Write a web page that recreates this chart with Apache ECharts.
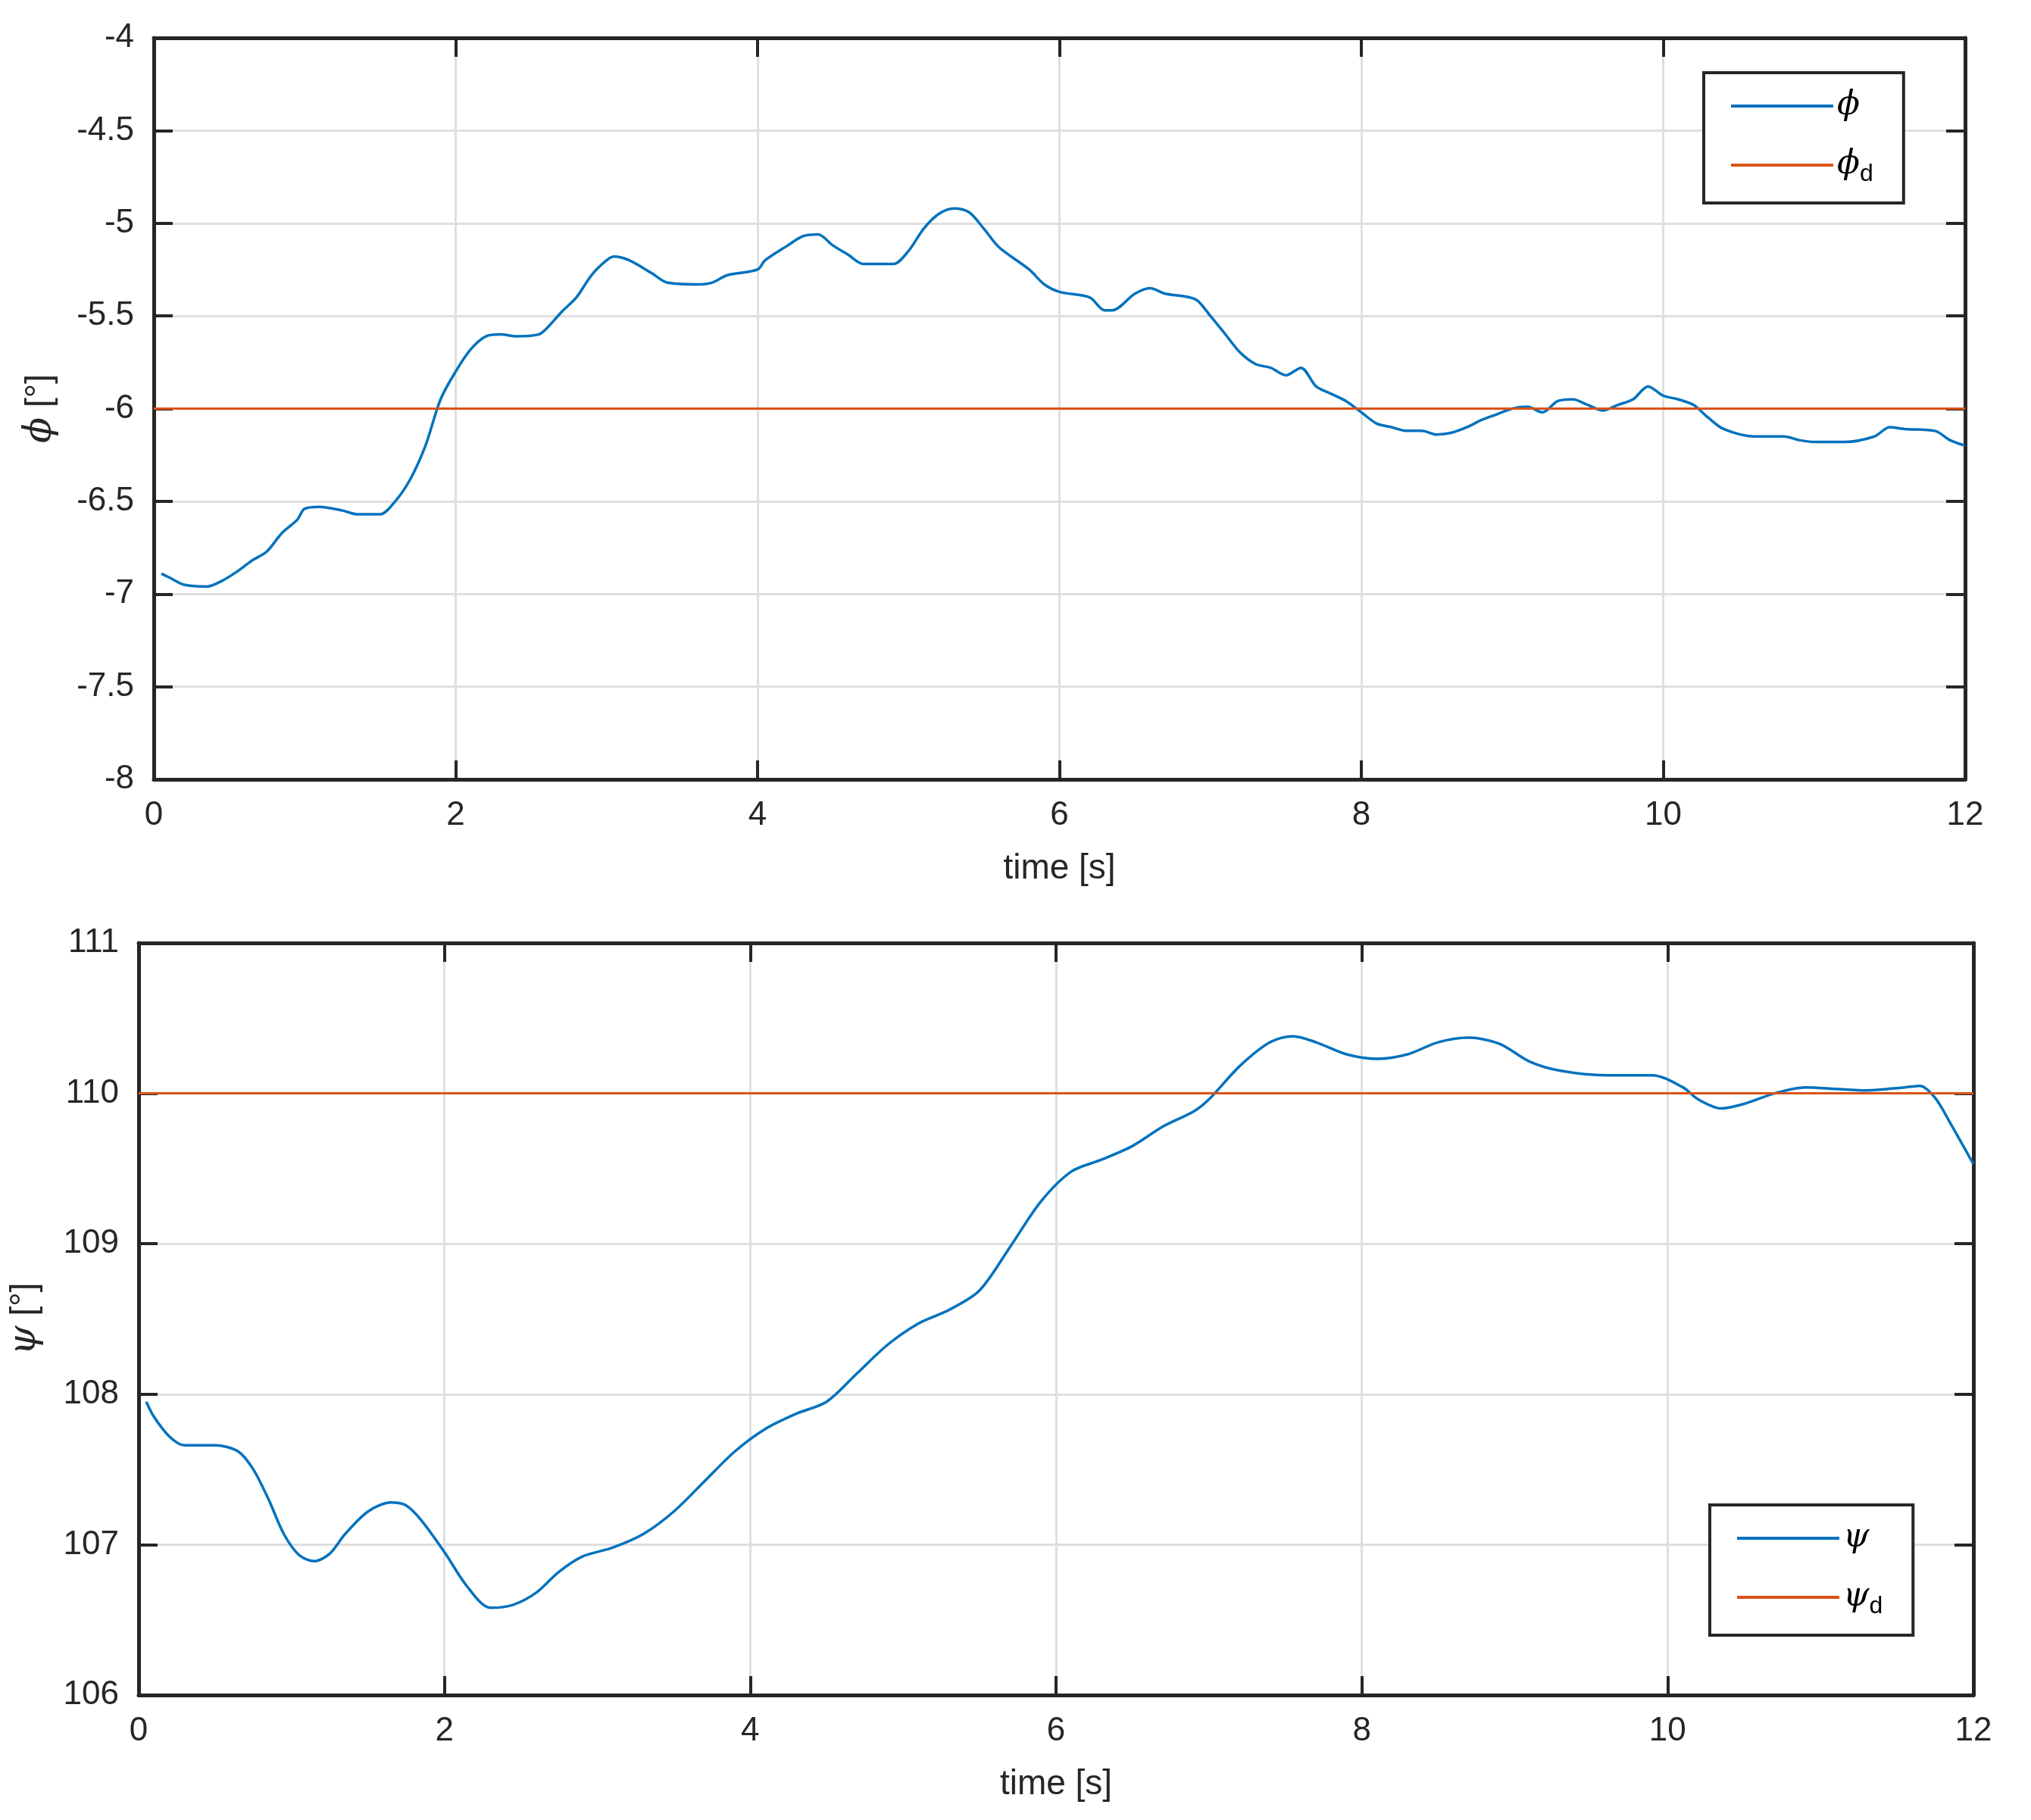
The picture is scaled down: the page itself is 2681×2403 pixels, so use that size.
<!DOCTYPE html>
<html lang="en">
<head>
  <meta charset="UTF-8">
  <title>phi psi</title>
  <style>html,body{margin:0;background:#fff}#chart{width:2681px;height:2403px}</style>
</head>
<body>
  <div id="chart"></div>
  <script src="https://cdn.jsdelivr.net/npm/echarts@6/dist/echarts.min.js"></script>
  <script>
    const phiT = [0.05,0.1,0.2,0.35,0.45,0.55,0.65,0.75,0.85,0.95,1.0,1.1,1.25,1.35,1.5,1.6,1.7,1.8,1.9,2.0,2.1,2.2,2.3,2.4,2.55,2.6,2.7,2.8,2.9,3.0,3.05,3.15,3.3,3.4,3.6,3.7,3.8,4.0,4.05,4.2,4.3,4.4,4.5,4.6,4.7,4.9,5.0,5.1,5.2,5.3,5.4,5.5,5.6,5.8,5.9,6.0,6.2,6.3,6.35,6.5,6.6,6.7,6.9,7.0,7.1,7.2,7.3,7.4,7.5,7.6,7.7,7.8,7.9,8.0,8.1,8.2,8.3,8.4,8.5,8.6,8.7,8.8,8.9,9.0,9.1,9.2,9.3,9.4,9.5,9.6,9.7,9.8,9.9,10.0,10.1,10.2,10.3,10.4,10.6,10.8,10.9,11.0,11.2,11.4,11.5,11.6,11.8,11.9,12.0];
    const phiV = [-6.89,-6.91,-6.95,-6.96,-6.93,-6.88,-6.82,-6.77,-6.67,-6.6,-6.54,-6.53,-6.55,-6.57,-6.57,-6.5,-6.38,-6.2,-5.95,-5.8,-5.68,-5.61,-5.6,-5.61,-5.6,-5.57,-5.48,-5.4,-5.28,-5.2,-5.18,-5.2,-5.27,-5.32,-5.33,-5.32,-5.28,-5.25,-5.2,-5.12,-5.07,-5.06,-5.12,-5.17,-5.22,-5.22,-5.15,-5.03,-4.95,-4.92,-4.94,-5.03,-5.13,-5.25,-5.33,-5.37,-5.4,-5.47,-5.47,-5.38,-5.35,-5.38,-5.41,-5.5,-5.6,-5.7,-5.76,-5.78,-5.82,-5.78,-5.88,-5.92,-5.96,-6.02,-6.08,-6.1,-6.12,-6.12,-6.14,-6.13,-6.1,-6.06,-6.03,-6.0,-5.99,-6.02,-5.96,-5.95,-5.98,-6.01,-5.98,-5.95,-5.88,-5.93,-5.95,-5.98,-6.05,-6.11,-6.15,-6.15,-6.17,-6.18,-6.18,-6.15,-6.1,-6.11,-6.12,-6.17,-6.2];
    const phiRef = -6;
    const psiT = [0.05,0.1,0.2,0.3,0.5,0.65,0.75,0.85,0.95,1.05,1.15,1.25,1.35,1.5,1.65,1.75,1.85,2.0,2.15,2.3,2.45,2.6,2.75,2.9,3.1,3.3,3.5,3.7,3.9,4.1,4.3,4.5,4.7,4.9,5.1,5.3,5.5,5.7,5.9,6.1,6.3,6.5,6.7,6.9,7.0,7.2,7.4,7.55,7.7,7.9,8.1,8.3,8.5,8.7,8.9,9.1,9.3,9.6,9.9,10.1,10.2,10.35,10.5,10.7,10.9,11.1,11.3,11.55,11.65,11.75,11.85,12.0];
    const psiV = [107.95,107.85,107.72,107.66,107.66,107.62,107.5,107.3,107.07,106.93,106.89,106.94,107.07,107.22,107.28,107.26,107.16,106.95,106.72,106.58,106.6,106.68,106.82,106.92,106.98,107.07,107.22,107.42,107.62,107.77,107.87,107.95,108.14,108.33,108.47,108.56,108.69,108.98,109.28,109.48,109.56,109.65,109.78,109.88,109.96,110.18,110.34,110.38,110.34,110.26,110.23,110.26,110.34,110.37,110.33,110.21,110.15,110.12,110.12,110.04,109.96,109.9,109.93,110.0,110.04,110.03,110.02,110.04,110.05,109.97,109.8,109.53];
    const psiRef = 110;

    const blue = '#0072BD', red = '#D95319', ink = '#262626';
    const font = 'Liberation Sans, Arial, sans-serif';
    const zip = (t, v) => t.map((x, i) => [x, v[i]]);

    function xAxes(gi, show) {
      const base = {
        type: 'value', gridIndex: gi, min: 0, max: 12, interval: 2,
        axisLine: { show: true, onZero: false, lineStyle: { color: ink, width: 5 } },
        axisTick: { show: true, inside: true, length: 25, lineStyle: { color: ink, width: 4 } }
      };
      return [
        Object.assign({}, base, {
          position: 'bottom', name: 'time [s]', nameLocation: 'middle', nameGap: 95,
          nameTextStyle: { fontSize: 46, color: ink, fontFamily: font },
          axisLabel: { fontSize: 44, color: ink, fontFamily: font, margin: 26 },
          splitLine: { show: true, lineStyle: { color: '#dfdfdf', width: 3 } }
        }),
        Object.assign({}, base, { position: 'top', axisLabel: { show: false }, splitLine: { show: false } })
      ];
    }
    function yAxes(gi, min, max, interval, sym) {
      const base = {
        type: 'value', gridIndex: gi, min: min, max: max, interval: interval,
        axisLine: { show: true, onZero: false, lineStyle: { color: ink, width: 5 } },
        axisTick: { show: true, inside: true, length: 25, lineStyle: { color: ink, width: 4 } }
      };
      return [
        Object.assign({}, base, {
          position: 'left', name: '{g|' + sym + '} [°]', nameLocation: 'middle', nameGap: 125, nameRotate: 90,
          nameTextStyle: { fontSize: 46, color: ink, fontFamily: font,
            rich: { g: { fontSize: 50, fontStyle: 'italic', fontFamily: 'DejaVu Serif', color: ink } } },
          axisLabel: { fontSize: 44, color: ink, fontFamily: font, margin: 26 },
          splitLine: { show: true, lineStyle: { color: '#dfdfdf', width: 3 } }
        }),
        Object.assign({}, base, { position: 'right', axisLabel: { show: false }, splitLine: { show: false } })
      ];
    }
    function legend(gi, names, pos) {
      return Object.assign({
        data: names, orient: 'vertical', itemWidth: 135, itemHeight: 4, itemGap: 34,
        padding: [22, 40, 22, 36], borderColor: ink, borderWidth: 4, backgroundColor: '#fff',
        icon: 'rect',
        textStyle: { fontSize: 44, fontFamily: 'DejaVu Serif', fontStyle: 'italic', color: '#000',
          rich: { s: { fontSize: 32, fontFamily: font, fontStyle: 'normal', color: '#000', padding: [24, 0, 0, 0] } } },
        formatter: n => n.endsWith('_d') ? n.slice(0, -2) + '{s|d}' : n
      }, pos);
    }

    const chart = echarts.init(document.getElementById('chart'));
    chart.setOption({
      backgroundColor: '#fff',
      animation: false,
      grid: [
        { left: 203, right: 2681 - 2594, top: 50, height: 979 },
        { left: 183, right: 2681 - 2605, top: 1245, height: 993 }
      ],
      xAxis: xAxes(0).concat(xAxes(1)),
      yAxis: yAxes(0, -8, -4, 0.5, 'ϕ').concat(yAxes(1, 106, 111, 1, 'ψ')),
      legend: [
        legend(0, ['ϕ', 'ϕ_d'], { left: 2249, top: 96 }),
        legend(1, ['ψ', 'ψ_d'], { left: 2257, top: 1987 })
      ],
      series: [
        { name: 'ϕ', type: 'line', xAxisIndex: 0, yAxisIndex: 0, data: zip(phiT, phiV), smooth: 0.3,
          showSymbol: false, lineStyle: { color: blue, width: 3.5 }, itemStyle: { color: blue } },
        { name: 'ϕ_d', type: 'line', xAxisIndex: 0, yAxisIndex: 0, data: [[0, phiRef], [12, phiRef]],
          showSymbol: false, lineStyle: { color: red, width: 3 }, itemStyle: { color: red } },
        { name: 'ψ', type: 'line', xAxisIndex: 2, yAxisIndex: 2, data: zip(psiT, psiV), smooth: 0.3,
          showSymbol: false, lineStyle: { color: blue, width: 3.5 }, itemStyle: { color: blue } },
        { name: 'ψ_d', type: 'line', xAxisIndex: 2, yAxisIndex: 2, data: [[0, psiRef], [12, psiRef]],
          showSymbol: false, lineStyle: { color: red, width: 3 }, itemStyle: { color: red } }
      ]
    });
  </script>
</body>
</html>
